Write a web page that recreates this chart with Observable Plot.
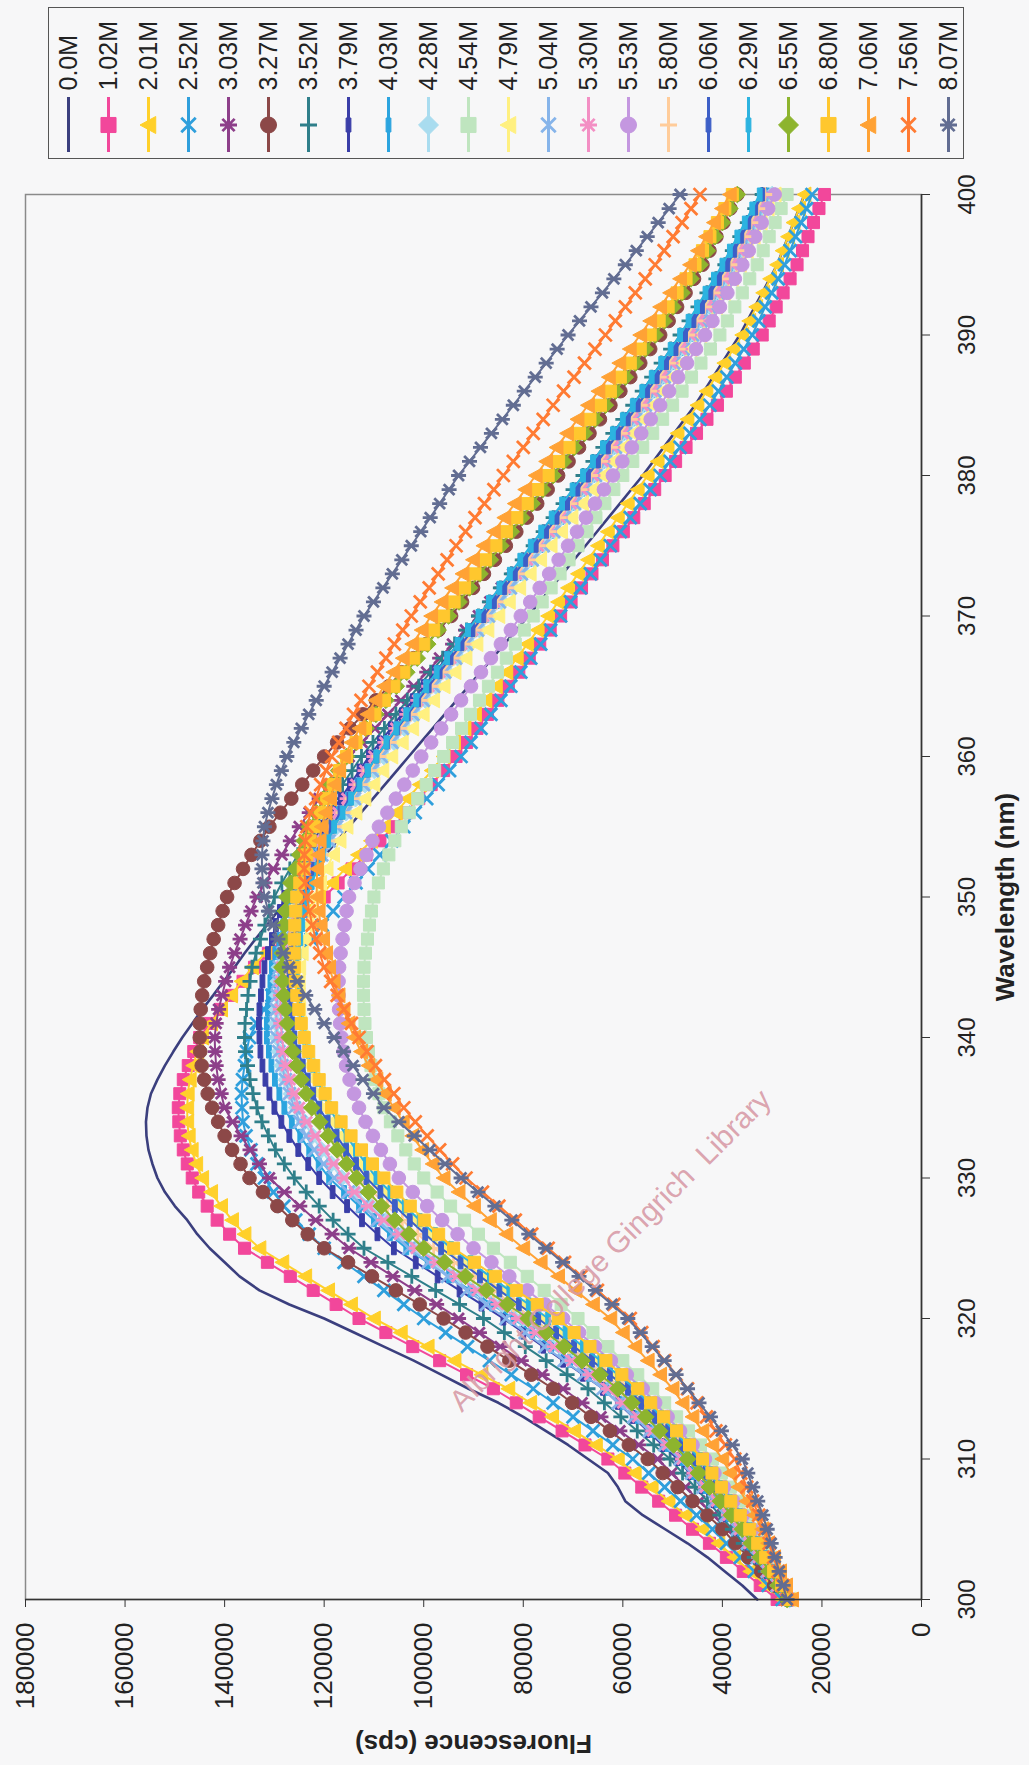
<!DOCTYPE html>
<html><head><meta charset="utf-8">
<script src="https://cdn.jsdelivr.net/npm/d3@7"></script>
<script src="https://cdn.jsdelivr.net/npm/@observablehq/plot@0.6"></script>
<style>
html,body{margin:0;padding:0;background:#f7f7f8;}
#page{position:relative;width:1029px;height:1765px;overflow:hidden;font-family:"Liberation Sans",Arial,sans-serif;}
#legendBox{position:absolute;left:48px;top:7px;width:914px;height:150px;border:1.5px solid #555;}
#legend{position:absolute;left:0;top:0;}
#chart{position:absolute;left:0;top:170px;}
</style></head><body><div id="page"><div id="legendBox"></div><div id="legend"></div><div id="chart"></div></div>
<script>
// Wavelength grid (nm), one reading per nm
const wavelengths = d3.range(300, 401);
// Series names (denaturant concentration)
const seriesNames = ["0.0M","1.02M","2.01M","2.52M","3.03M","3.27M","3.52M","3.79M","4.03M","4.28M","4.54M","4.79M","5.04M","5.30M","5.53M","5.80M","6.06M","6.29M","6.55M","6.80M","7.06M","7.56M","8.07M"];
const seriesColors = ["#3b3f7e","#f2479b","#ffd02a","#2f9fdc","#8d3f8a","#8c4848","#2f7f8a","#3a3ea8","#2ba4df","#a9dcef","#bfe5bf","#fff080","#86b4ea","#f38fc4","#c497e0","#ffcc9a","#3d5fc7","#2cb3e0","#8db42e","#ffc72e","#ffa235","#ff7b33","#626d92"];
const seriesMarkers = ["none","square","triangle","x","star","circle","plus","dash","dash","diamond","square","triangle","x","star","circle","plus","dash","dash","diamond","square","triangle","x","star"];
// Fluorescence (thousands of cps) at 300..400 nm
const f_0_0M = [33,36,39.5,43,47,51.5,56,59.5,61,63,67,71,75.5,80,85,91,96.5,102,108,114,120,127,133,137,140,143,145.5,147.5,150,152,153.5,154.5,155.3,155.7,155.8,155.5,154.8,153.5,152,150.3,148.5,146.5,144.5,142.3,140.2,138,136,133.8,131.5,129.3,127,124.6,122.2,119.8,117.4,115,112.6,110.2,107.8,105.4,103,100.6,98.2,95.8,93.4,91,88.6,86.2,83.8,81.4,79,76.7,74.4,72.1,69.8,67.5,65.2,62.9,60.6,58.3,56,53.9,51.8,49.7,47.6,45.5,43.7,41.9,40.1,38.3,36.5,35,33.5,32,30.5,29,27.9,26.8,25.7,24.6,23.5];
const f_1_02M = [29,32.4,35.8,39.2,42.6,46,49.4,52.8,56.2,59.6,63,67.6,72.2,76.8,81.4,86,91.4,96.8,102.2,107.6,113,117.6,122.2,126.8,131.4,136,139,141.5,143.5,145.2,146.5,147.5,148.3,148.9,149.2,149.3,149,148.3,147.3,146.2,145,143,140.8,138.6,136.3,134,131.2,128.4,125.6,122.8,120,117.2,114.4,111.6,108.8,106,103.5,101,98.5,96,93.5,91.4,89.3,87.2,85.1,83,80.9,78.8,76.7,74.6,72.5,70.4,68.3,66.2,64.1,62,59.9,57.8,55.7,53.6,51.5,49.4,47.3,45.2,43.1,41,39.2,37.4,35.6,33.8,32,30.6,29.2,27.8,26.4,25,23.9,22.8,21.7,20.6,19.5];
const f_2_01M = [28,31.2,34.4,37.6,40.8,44,47.4,50.8,54.2,57.6,61,65.4,69.8,74.2,78.6,83,88.4,93.8,99.2,104.6,110,114.6,119.2,123.8,128.4,133,136,138.5,140.7,142.7,144.5,145.7,146.6,147.2,147.5,147.5,147.4,147,146.3,145.5,144.5,142.7,140.7,138.7,136.6,134.5,131.8,129.1,126.4,123.7,121,118.4,115.8,113.2,110.6,108,105.6,103.2,100.8,98.4,96,93.9,91.8,89.7,87.6,85.5,83.4,81.3,79.2,77.1,75,73,71,69,67,65,63,61,59,57,55,53,51,49,47,45,43.2,41.4,39.6,37.8,36,34.6,33.2,31.8,30.4,29,27.9,26.8,25.7,24.6,23.5];
const f_2_52M = [28,30.8,33.6,36.4,39.2,42,45.2,48.4,51.6,54.8,58,62,66,70,74,78,82.4,86.8,91.2,95.6,100,104,108,112,116,120,123,125.7,128.1,130.2,132,133.5,134.7,135.7,136.3,136.5,136.6,136.4,136,135.6,135,133.6,132.1,130.5,128.8,127,124.8,122.6,120.4,118.2,116,113.6,111.2,108.8,106.4,104,101.7,99.4,97.1,94.8,92.5,90.5,88.5,86.5,84.5,82.5,80.5,78.5,76.5,74.5,72.5,70.5,68.5,66.5,64.5,62.5,60.5,58.5,56.5,54.5,52.5,50.5,48.5,46.5,44.5,42.5,40.8,39.1,37.4,35.7,34,32.7,31.4,30.1,28.8,27.5,26.4,25.3,24.2,23.1,22];
const f_3_03M = [27,29.4,31.8,34.2,36.6,39,41.8,44.6,47.4,50.2,53,56.8,60.6,64.4,68.2,72,76.2,80.4,84.6,88.8,93,97.4,101.8,106.2,110.6,115,118.4,121.7,124.9,128,131,133,134.9,136.7,138.4,140,140.7,141.3,141.7,141.9,142,141.7,141.2,140.5,139.8,139,138,136.9,135.8,134.7,133.5,131.9,130.2,128.5,126.8,125,123,121,119,117,115,112.4,109.8,107.2,104.6,102,99.4,96.8,94.2,91.6,89,86.7,84.4,82.1,79.8,77.5,75.4,73.3,71.2,69.1,67,64.9,62.8,60.7,58.6,56.5,54.5,52.5,50.5,48.5,46.5,44.7,42.9,41.1,39.3,37.5,36,34.5,33,31.5,30];
const f_3_27M = [27,29.6,32.2,34.8,37.4,40,43,46,49,52,55,58.8,62.6,66.4,70.2,74,78.4,82.8,87.2,91.6,96,100.8,105.6,110.4,115.2,120,123.3,126.4,129.4,132.3,135,136.8,138.5,140,141.3,142.5,143.4,144.1,144.6,144.9,145,145,144.8,144.5,144.1,143.5,142.9,142.2,141.3,140.4,139.5,138,136.3,134.6,132.8,131,128.8,126.6,124.4,122.2,120,117.4,114.8,112.2,109.6,107,104.5,102,99.5,97,94.5,92.3,90.1,87.9,85.7,83.5,81.4,79.3,77.2,75.1,73,70.9,68.8,66.7,64.6,62.5,60.5,58.5,56.5,54.5,52.5,50.8,49.1,47.4,45.7,44,42.6,41.2,39.8,38.4,37];
const f_3_52M = [27,29.2,31.4,33.6,35.8,38,40.5,43,45.5,48,50.5,53.8,57.1,60.4,63.7,67,71.2,75.4,79.6,83.8,88,92.8,97.6,102.4,107.2,112,115.2,118.2,121,123.6,126,128,129.8,131.2,132.5,133.5,134.3,134.9,135.4,135.8,136,135.9,135.6,135.3,134.9,134.5,133.7,132.8,131.9,131,130,128.5,126.9,125.3,123.7,122,120.1,118.2,116.3,114.4,112.5,110.2,107.9,105.6,103.3,101,98.6,96.2,93.8,91.4,89,86.8,84.6,82.4,80.2,78,76,74,72,70,68,66,64,62,60,58,56.1,54.2,52.3,50.4,48.5,46.7,44.9,43.1,41.3,39.5,38,36.5,35,33.5,32];
const f_3_79M = [27,29,31,33,35,37,39.4,41.8,44.2,46.6,49,52,55,58,61,64,68,72,76,80,84,88.4,92.8,97.2,101.6,106,109.3,112.4,115.4,118.3,121,123.2,125.2,127,128.6,130,131,131.8,132.4,132.8,133,133.1,133,132.7,132.4,132,131.3,130.5,129.7,128.9,128,126.6,125.1,123.6,122.1,120.5,118.6,116.7,114.8,112.9,111,108.8,106.6,104.4,102.2,100,97.7,95.4,93.1,90.8,88.5,86.3,84.1,81.9,79.7,77.5,75.4,73.3,71.2,69.1,67,65,63,61,59,57,55.1,53.2,51.3,49.4,47.5,45.8,44.1,42.4,40.7,39,37.5,36,34.5,33,31.5];
const f_4_03M = [27,28.9,30.8,32.7,34.6,36.5,38.8,41.1,43.4,45.7,48,51,54,57,60,63,66.8,70.6,74.4,78.2,82,86.3,90.6,94.9,99.2,103.5,106.8,110,113,116,119,121.1,123,124.8,126.5,128,129,129.9,130.6,131.1,131.5,131.5,131.3,131.1,130.8,130.5,129.8,129,128.2,127.4,126.5,125,123.5,122,120.5,119,117.1,115.2,113.3,111.4,109.5,107.4,105.3,103.2,101.1,99,96.7,94.4,92.1,89.8,87.5,85.3,83.1,80.9,78.7,76.5,74.4,72.3,70.2,68.1,66,64,62,60,58,56,54.1,52.2,50.3,48.4,46.5,44.8,43.1,41.4,39.7,38,36.6,35.2,33.8,32.4,31];
const f_4_28M = [26.5,28.4,30.3,32.2,34.1,36,38.2,40.4,42.6,44.8,47,49.9,52.8,55.7,58.6,61.5,65.2,68.9,72.6,76.3,80,84.2,88.4,92.6,96.8,101,104.3,107.5,110.6,113.6,116.5,118.6,120.6,122.4,124,125.5,126.6,127.6,128.4,129,129.5,129.6,129.5,129.4,129.2,129,128.3,127.5,126.7,125.9,125,123.5,122,120.5,119,117.5,115.6,113.7,111.8,109.9,108,105.9,103.8,101.7,99.6,97.5,95.3,93.1,90.9,88.7,86.5,84.3,82.1,79.9,77.7,75.5,73.4,71.3,69.2,67.1,65,63,61,59,57,55,53.1,51.2,49.3,47.4,45.5,43.8,42.1,40.4,38.7,37,35.6,34.2,32.8,31.4,30];
const f_4_54M = [26,27.4,28.8,30.2,31.6,33,34.8,36.6,38.4,40.2,42,44.4,46.8,49.2,51.6,54,57,60,63,66,69,72.4,75.8,79.2,82.6,86,89,91.8,94.6,97.3,100,101.9,103.6,105.2,106.7,108,109,109.9,110.6,111.1,111.5,111.8,112,112.1,112.1,112,111.7,111.3,110.9,110.5,110,109.1,108.1,107,105.8,104.5,102.9,101.2,99.5,97.8,96,94.2,92.4,90.6,88.8,87,85.2,83.4,81.6,79.8,78,76.2,74.4,72.6,70.8,69,67.2,65.4,63.6,61.8,60,58,56,54,52,50,48.1,46.2,44.3,42.4,40.5,39,37.5,36,34.5,33,31.8,30.6,29.4,28.2,27];
const f_4_79M = [26.5,28.2,29.9,31.6,33.3,35,37,39,41,43,45,47.7,50.4,53.1,55.8,58.5,62,65.5,69,72.5,76,80,84,88,92,96,99.2,102.2,105.2,108.1,111,113,114.9,116.7,118.4,120,121.1,122.1,123,123.8,124.5,124.8,125,125.1,125.1,125,124.5,123.9,123.3,122.7,122,120.8,119.5,118.2,116.9,115.5,113.7,111.9,110.1,108.3,106.5,104.4,102.3,100.2,98.1,96,93.8,91.6,89.4,87.2,85,82.9,80.8,78.7,76.6,74.5,72.4,70.3,68.2,66.1,64,62,60,58,56,54,52.1,50.2,48.3,46.4,44.5,42.9,41.3,39.7,38.1,36.5,35.1,33.7,32.3,30.9,29.5];
const f_5_04M = [27,29,31,33,35,37,39.3,41.6,43.9,46.2,48.5,51.6,54.7,57.8,60.9,64,67.9,71.8,75.7,79.6,83.5,87.4,91.3,95.2,99.1,103,106.2,109.3,112.3,115.2,118,120.1,122,123.6,124.9,126,127,127.8,128.5,129.1,129.5,129.6,129.6,129.4,129.2,129,128.3,127.6,126.8,125.9,125,123.5,122,120.5,119,117.5,115.7,113.9,112.1,110.3,108.5,106.4,104.3,102.2,100.1,98,95.8,93.6,91.4,89.2,87,84.8,82.6,80.4,78.2,76,73.9,71.8,69.7,67.6,65.5,63.5,61.5,59.5,57.5,55.5,53.6,51.7,49.8,47.9,46,44.3,42.6,40.9,39.2,37.5,36.1,34.7,33.3,31.9,30.5];
const f_5_30M = [27,28.9,30.8,32.7,34.6,36.5,38.8,41.1,43.4,45.7,48,51,54,57,60,63,66.6,70.2,73.8,77.4,81,85.1,89.2,93.3,97.4,101.5,104.8,108,111.1,113.9,116,118.1,120,121.8,123.5,125,126,126.9,127.6,128.1,128.5,128.7,128.8,128.8,128.7,128.5,127.9,127.3,126.6,126,125.5,124.2,122.9,121.6,120.3,119,117.2,115.4,113.6,111.8,110,107.8,105.6,103.4,101.2,99,96.8,94.6,92.4,90.2,88,85.8,83.6,81.4,79.2,77,74.8,72.6,70.4,68.2,66,64,62,60,58,56,54.1,52.2,50.3,48.4,46.5,44.8,43.1,41.4,39.7,38,36.6,35.2,33.8,32.4,31];
const f_5_53M = [26,27.6,29.2,30.8,32.4,34,35.9,37.8,39.7,41.6,43.5,46,48.5,51,53.5,56,59.2,62.4,65.6,68.8,72,75.6,79.2,82.8,86.4,90,93.2,96.3,99.3,102.2,105,106.8,108.6,110.2,111.7,113,114,114.9,115.6,116.1,116.5,116.8,117,117.1,117.1,117,116.7,116.3,115.9,115.5,115,113.9,112.7,111.5,110.3,109,107.3,105.6,103.9,102.2,100.5,98.5,96.5,94.5,92.5,90.5,88.5,86.5,84.5,82.5,80.5,78.6,76.7,74.8,72.9,71,69.2,67.4,65.6,63.8,62,60.1,58.2,56.3,54.4,52.5,50.7,48.9,47.1,45.3,43.5,42,40.5,39,37.5,36,34.7,33.4,32.1,30.8,29.5];
const f_5_80M = [26.5,28.3,30.1,31.9,33.7,35.5,37.6,39.7,41.8,43.9,46,48.8,51.6,54.4,57.2,60,63.6,67.2,70.8,74.4,78,82,86,90,94,98,101.2,104.3,107.3,110.2,113,115.1,117.1,119,120.8,122.5,123.6,124.6,125.5,126.3,127,127.3,127.5,127.6,127.6,127.5,127,126.4,125.8,125.2,124.5,123.2,121.9,120.6,119.3,118,116.2,114.4,112.6,110.8,109,106.9,104.8,102.7,100.6,98.5,96.3,94.1,91.9,89.7,87.5,85.4,83.3,81.2,79.1,77,74.9,72.8,70.7,68.6,66.5,64.5,62.5,60.5,58.5,56.5,54.6,52.7,50.8,48.9,47,45.3,43.6,41.9,40.2,38.5,37.1,35.7,34.3,32.9,31.5];
const f_6_06M = [26.5,28.2,29.9,31.6,33.3,35,37.1,39.2,41.3,43.4,45.5,48.2,50.9,53.6,56.3,59,62.6,66.2,69.8,73.4,77,80.9,84.8,88.7,92.6,96.5,99.7,102.8,105.8,108.7,111.5,113.6,115.6,117.5,119.3,121,122.2,123.3,124.3,125.2,126,126.4,126.7,126.9,127,127,126.6,126.1,125.6,125.1,124.5,123.3,122.1,120.9,119.7,118.5,116.7,114.9,113.1,111.3,109.5,107.4,105.3,103.2,101.1,99,96.8,94.6,92.4,90.2,88,85.9,83.8,81.7,79.6,77.5,75.4,73.3,71.2,69.1,67,65,63,61,59,57,55.1,53.2,51.3,49.4,47.5,45.8,44.1,42.4,40.7,39,37.6,36.2,34.8,33.4,32];
const f_6_29M = [26.5,28.1,29.7,31.3,32.9,34.5,36.5,38.5,40.5,42.5,44.5,47.1,49.7,52.3,54.9,57.5,61,64.5,68,71.5,75,78.9,82.8,86.7,90.6,94.5,97.7,100.8,103.8,106.7,109.5,111.6,113.6,115.5,117.3,119,120.2,121.3,122.3,123.2,124,124.5,124.9,125.2,125.4,125.5,125.2,124.8,124.4,124,123.5,122.5,121.4,120.3,119.2,118,116.3,114.6,112.9,111.2,109.5,107.5,105.5,103.5,101.5,99.5,97.4,95.3,93.2,91.1,89,86.9,84.8,82.7,80.6,78.5,76.4,74.3,72.2,70.1,68,66,64,62,60,58,56.1,54.2,52.3,50.4,48.5,46.8,45.1,43.4,41.7,40,38.5,37,35.5,34,32.5];
const f_6_55M = [27,28.8,30.6,32.4,34.2,36,38.2,40.4,42.6,44.8,47,49.8,52.6,55.4,58.2,61,64.6,68.2,71.8,75.4,79,83.2,87.4,91.6,95.8,100,103,105.8,108.5,111.1,113.5,115.5,117.4,119.2,120.9,122.5,123.6,124.6,125.5,126.3,127,127.4,127.8,128.1,128.3,128.5,128.4,128.2,128,127.8,127.5,126.7,125.8,124.9,124,123,121.6,120.1,118.6,117.1,115.5,113.6,111.6,109.6,107.6,105.5,103.4,101.3,99.2,97.1,95,92.9,90.8,88.7,86.6,84.5,82.4,80.3,78.2,76.1,74,71.9,69.8,67.7,65.6,63.5,61.5,59.5,57.5,55.5,53.5,51.7,49.9,48.1,46.3,44.5,43,41.5,40,38.5,37];
const f_6_80M = [26.5,28.1,29.7,31.3,32.9,34.5,36.4,38.3,40.2,42.1,44,46.6,49.2,51.8,54.4,57,60.2,63.4,66.6,69.8,73,77.2,81.4,85.6,89.8,94,97,99.9,102.7,105.4,108,110.3,112.5,114.6,116.6,118.5,119.8,121,122.1,123.1,124,124.6,125.1,125.5,125.8,126,126,126,125.9,125.7,125.5,124.9,124.2,123.5,122.8,122,120.8,119.5,118.2,116.9,115.5,113.6,111.7,109.8,107.9,106,104,102,100,98,96,93.9,91.8,89.7,87.6,85.5,83.4,81.3,79.2,77.1,75,72.9,70.8,68.7,66.6,64.5,62.5,60.5,58.5,56.5,54.5,52.7,50.9,49.1,47.3,45.5,44,42.5,41,39.5,38];
const f_7_06M = [26,27.2,28.4,29.6,30.8,32,33.6,35.2,36.8,38.4,40,42,44,46,48,50,52.5,55,57.5,60,62.5,66,69.5,73,76.5,80,83.4,86.7,89.9,93,96,98.2,100.3,102.3,104.2,106,107.8,109.5,111.1,112.6,114,115.1,116.1,117.1,118.1,119,119.6,120.2,120.7,121.1,121.5,121.5,121.4,121.2,120.9,120.5,119.7,118.8,117.9,117,116,114.5,112.9,111.3,109.7,108,106.1,104.2,102.3,100.4,98.5,96.4,94.3,92.2,90.1,88,85.9,83.8,81.7,79.6,77.5,75.4,73.3,71.2,69.1,67,64.9,62.8,60.7,58.6,56.5,54.5,52.5,50.5,48.5,46.5,44.9,43.3,41.7,40.1,38.5];
const f_7_56M = [27,27.9,28.8,29.7,30.6,31.5,32.7,33.9,35.1,36.3,37.5,39.4,41.3,43.2,45.1,47,49.3,51.6,53.9,56.2,58.5,61.8,65.1,68.4,71.7,75,78.3,81.6,84.9,88.2,91.5,94.2,96.8,99.3,101.7,104,106,107.9,109.7,111.4,113,114.5,116,117.4,118.7,120,120.9,121.7,122.4,123,123.5,123.8,124,124,123.8,123.5,122.7,121.7,120.7,119.6,118.5,117.1,115.6,114.1,112.6,111,109.3,107.6,105.9,104.2,102.5,100.7,98.9,97.1,95.3,93.5,91.6,89.7,87.8,85.9,84,82,80,78,76,74,71.9,69.8,67.7,65.6,63.5,61.5,59.5,57.5,55.5,53.5,51.7,49.9,48.1,46.3,44.5];
const f_8_07M = [27,27.8,28.6,29.4,30.2,31,31.9,32.9,33.9,34.9,36,38,40.2,42.4,44.7,47,49.3,51.7,54.1,56.5,59,62.2,65.5,68.8,72.1,75.5,78.9,82.3,85.7,89.1,92.5,95.7,98.8,101.9,105,108,110.1,112.2,114.2,116.1,118,120,121.9,123.7,125.4,127,128.2,129.3,130.3,131.2,132,132.3,132.5,132.5,132.3,132,131.3,130.5,129.6,128.6,127.5,126.1,124.6,123.1,121.6,120,118.4,116.8,115.2,113.6,112,110.1,108.2,106.3,104.4,102.5,100.6,98.7,96.8,94.9,93,90.8,88.6,86.4,84.2,82,79.8,77.6,75.4,73.2,71,68.7,66.4,64.1,61.8,59.5,57.3,55.1,52.9,50.7,48.5];
const seriesValues = [f_0_0M,f_1_02M,f_2_01M,f_2_52M,f_3_03M,f_3_27M,f_3_52M,f_3_79M,f_4_03M,f_4_28M,f_4_54M,f_4_79M,f_5_04M,f_5_30M,f_5_53M,f_5_80M,f_6_06M,f_6_29M,f_6_55M,f_6_80M,f_7_06M,f_7_56M,f_8_07M];
const valueUnit = 1000; // values above are in thousands of cps
const fluorescenceTicks = [0,20000,40000,60000,80000,100000,120000,140000,160000,180000];
const wavelengthTicks = [300,310,320,330,340,350,360,370,380,390,400];

// ---- marker shapes (chart is printed rotated 90° counter-clockwise) ----
const rad = s => Math.sqrt(s / Math.PI);
const SYM = {
  square: {shape: d3.symbolSquare, filled: true},
  circle: {shape: d3.symbolCircle, filled: true},
  diamond: {shape: d3.symbolDiamond2, filled: true},
  triangle: {shape: {draw(c, s) { const r = rad(s); c.moveTo(-r, 0); c.lineTo(r * 0.85, -r); c.lineTo(r * 0.85, r); c.closePath(); }}, filled: true},
  x: {shape: {draw(c, s) { const r = rad(s) * 0.85; c.moveTo(-r, -r); c.lineTo(r, r); c.moveTo(-r, r); c.lineTo(r, -r); }}, filled: false},
  star: {shape: {draw(c, s) { const r = rad(s); const a = r * 0.72; c.moveTo(-a, -a); c.lineTo(a, a); c.moveTo(-a, a); c.lineTo(a, -a); c.moveTo(-r, 0); c.lineTo(r, 0); }}, filled: false},
  plus: {shape: {draw(c, s) { const r = rad(s); c.moveTo(-r, 0); c.lineTo(r, 0); c.moveTo(0, -r); c.lineTo(0, r); }}, filled: false},
  dash: {shape: {draw(c, s) { const r = rad(s); c.moveTo(-2.4, -r); c.lineTo(2.4, -r); c.lineTo(2.4, r); c.lineTo(-2.4, r); c.closePath(); }}, filled: true}
};
const plotR = {square: 6.8, circle: 6.8, diamond: 7.5, triangle: 7.5, x: 7.5, star: 7.5, plus: 7.5, dash: 6.5};
const legR = {square: 8.5, circle: 8, diamond: 9, triangle: 8.5, x: 8.5, star: 8.5, plus: 8.5, dash: 7};

function dotOpts(kind, color, rMap) {
  const m = SYM[kind];
  return m.filled
    ? {symbol: m.shape, r: rMap[kind], fill: color, stroke: color, strokeWidth: 1}
    : {symbol: m.shape, r: rMap[kind], fill: "none", stroke: color, strokeWidth: 2.8};
}

// ---- data table ----
const rows = seriesNames.map((name, i) => wavelengths.map((w, j) => ({series: name, w, f: seriesValues[i][j] * valueUnit})));

const FONT = '"Liberation Sans", Arial, sans-serif';

// ---- main chart ----
const marks = [
  Plot.frame({stroke: "#8a8a8a", strokeWidth: 1.5}),
  Plot.axisX({anchor: "bottom", ticks: fluorescenceTicks, tickSize: 8, tickPadding: 15, tickRotate: -90, textAnchor: "end", lineAnchor: "middle", tickFormat: d => String(d), fontSize: 26, label: null, stroke: "#333"}),
  Plot.axisY({anchor: "right", ticks: wavelengthTicks, tickSize: 8, tickPadding: 28, tickRotate: -90, textAnchor: "middle", lineAnchor: "top", tickFormat: d => String(d), fontSize: 24, label: null, stroke: "#333"}),
];
seriesNames.forEach((name, i) => {
  const color = seriesColors[i];
  const kind = seriesMarkers[i];
  marks.push(Plot.line(rows[i], {x: "f", y: "w", stroke: color, strokeWidth: kind === "none" ? 2.6 : 2}));
  if (kind !== "none") marks.push(Plot.dot(rows[i], {x: "f", y: "w", ...dotOpts(kind, color, plotR)}));
});
marks.push(
  Plot.ruleX([0], {stroke: "#333", strokeWidth: 1.6}),
  Plot.ruleY([300], {stroke: "#333", strokeWidth: 1.6}),
  Plot.text(["Fluorescence (cps)"], {text: d => d, frameAnchor: "bottom", dy: 144, rotate: 180, textAnchor: "middle", lineAnchor: "middle", fontWeight: "bold", fontSize: 26, fill: "#222"}),
  Plot.text(["Wavelength (nm)"], {text: d => d, frameAnchor: "right", dx: 84, rotate: -90, textAnchor: "middle", lineAnchor: "middle", fontWeight: "bold", fontSize: 26, fill: "#222"}),
  Plot.text(["Albright College Gingrich  Library"], {text: d => d, frameAnchor: "top-left", dx: 585, dy: 1056, rotate: -45, textAnchor: "middle", lineAnchor: "middle", fontSize: 30, fill: "#d79aa6", fillOpacity: 0.9})
);

const chart = Plot.plot({
  width: 1029, height: 1595,
  marginTop: 24, marginBottom: 166, marginLeft: 25, marginRight: 108,
  x: {domain: [0, 180000], reverse: true},
  y: {domain: [300, 400]},
  style: {fontFamily: FONT, background: "transparent", color: "#222", overflow: "visible"},
  marks
});
document.getElementById("chart").appendChild(chart);

// ---- legend ----
const legMarks = [];
seriesNames.forEach((name, i) => {
  const color = seriesColors[i];
  const kind = seriesMarkers[i];
  legMarks.push(Plot.ruleX([name], {x: d => d, stroke: color, strokeWidth: 3}));
  if (kind !== "none") legMarks.push(Plot.dot([name], {x: d => d, frameAnchor: "middle", ...dotOpts(kind, color, legR)}));
});
legMarks.push(Plot.text(seriesNames, {x: d => d, text: d => d, frameAnchor: "top", dy: -7, rotate: -90, textAnchor: "start", lineAnchor: "middle", fontSize: 25, fill: "#222"}));
const legend = Plot.plot({
  width: 1029, height: 165,
  marginTop: 97, marginBottom: 13, marginLeft: 68, marginRight: 81,
  x: {type: "point", domain: seriesNames, padding: 0, axis: null},
  style: {fontFamily: FONT, background: "transparent", color: "#222", overflow: "visible"},
  marks: legMarks
});
document.getElementById("legend").appendChild(legend);
</script></body></html>
